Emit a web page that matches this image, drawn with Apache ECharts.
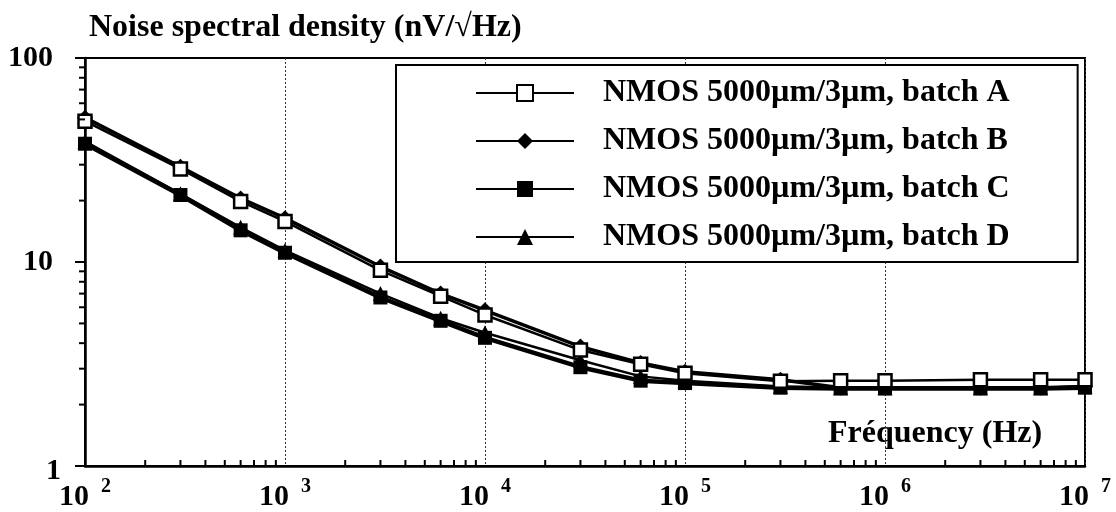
<!DOCTYPE html>
<html>
<head>
<meta charset="utf-8">
<script src="https://cdn.jsdelivr.net/npm/echarts@6/dist/echarts.min.js"></script>
<style>
html,body{margin:0;padding:0;background:#fff;}
#chart{width:1116px;height:512px;}
</style>
</head>
<body>
<div id="chart"></div>
<script>
// Frequencies (Hz)
const freqs = [100, 300, 600, 1000, 3000, 6000, 10000, 30000, 60000, 100000, 300000, 600000, 1000000, 3000000, 6000000, 10000000];
// Noise spectral density (nV/sqrt(Hz))
const batchA = [49, 28.6, 19.8, 15.8, 9.1, 6.8, 5.5, 3.7, 3.15, 2.85, 2.6, 2.62, 2.62, 2.65, 2.65, 2.65];
const batchB = [51, 29.3, 20.5, 16.4, 9.5, 7.0, 5.8, 3.85, 3.2, 2.9, 2.65, 2.42, 2.42, 2.42, 2.42, 2.45];
const batchC = [38, 21.3, 14.3, 11.1, 6.7, 5.15, 4.25, 3.05, 2.62, 2.55, 2.42, 2.4, 2.4, 2.4, 2.4, 2.42];
const batchD = [39, 21.6, 14.8, 11.4, 7.0, 5.3, 4.5, 3.3, 2.75, 2.62, 2.45, 2.42, 2.42, 2.42, 2.42, 2.45];
const seriesNames = ['NMOS 5000µm/3µm, batch A', 'NMOS 5000µm/3µm, batch B', 'NMOS 5000µm/3µm, batch C', 'NMOS 5000µm/3µm, batch D'];
// Minor tick positions
const xMinorTicks = [200,300,400,500,600,700,800,900,2000,3000,4000,5000,6000,7000,8000,9000,20000,30000,40000,50000,60000,70000,80000,90000,200000,300000,400000,500000,600000,700000,800000,900000,2000000,3000000,4000000,5000000,6000000,7000000,8000000,9000000];
const yMinorTicks = [2,3,4,5,6,7,8,9,20,30,40,50,60,70,80,90];
const titleText = 'Noise spectral density (nV/√Hz)';
const xTitleText = 'Fréquency (Hz)';

const FONT = '"Liberation Serif", "Times New Roman", serif';
const pair = arr => freqs.map((f, i) => [f, arr[i]]);

const chart = echarts.init(document.getElementById('chart'), null, {renderer: 'canvas'});

function tickSeries(data, dx, dy) {
  return {
    type: 'custom', silent: true, z: 5, clip: false,
    data: data,
    renderItem: function (params, api) {
      const p = api.coord([api.value(0), api.value(1)]);
      return {type: 'line', shape: {x1: p[0], y1: p[1], x2: p[0] + dx, y2: p[1] + dy},
              style: {stroke: '#000', lineWidth: 2}};
    }
  };
}

const option = {
  animation: false,
  backgroundColor: '#fff',
  grid: {left: 85, right: 31, top: 58, bottom: 46, show: true, borderColor: '#000', borderWidth: 2, backgroundColor: 'transparent'},
  xAxis: {
    type: 'log', logBase: 10, min: 100, max: 10000000,
    axisLine: {show: true, lineStyle: {color: '#000', width: 2.5}},
    axisTick: {show: false},
    splitLine: {show: true, lineStyle: {color: '#333', width: 1, type: [2, 2]}},
    axisLabel: {
      margin: 11, color: '#000',
      formatter: function (v) { return '{b|10}{s|' + Math.round(Math.log10(v)) + '}'; },
      rich: {
        b: {fontFamily: FONT, fontWeight: 'bold', fontSize: 30, lineHeight: 30, padding: [10, 0, 0, 0], color: '#000'},
        s: {fontFamily: FONT, fontWeight: 'bold', fontSize: 20, lineHeight: 20, verticalAlign: 'top', padding: [0, 0, 0, 12], color: '#000'}
      }
    }
  },
  yAxis: {
    type: 'log', logBase: 10, min: 1, max: 100,
    axisLine: {show: true, lineStyle: {color: '#000', width: 2.5}},
    axisTick: {show: true, inside: false, length: 10, lineStyle: {color: '#000', width: 2}},
    splitLine: {show: false},
    axisLabel: {
      margin: 24, color: '#000',
      formatter: function (v) { return v === 1 ? '{one|1}' : '{n|' + v + '}'; },
      rich: {
        n: {fontFamily: FONT, fontWeight: 'bold', fontSize: 30, padding: [0, 8, 0, 0], color: '#000'},
        one: {fontFamily: FONT, fontWeight: 'bold', fontSize: 30, padding: [10, 0, 0, 0], color: '#000'}
      }
    }
  },
  legend: {
    data: seriesNames,
    orient: 'vertical',
    left: 396, top: 65,
    padding: [12, 68, 9, 79],
    itemWidth: 98, itemHeight: 20, itemGap: 16,
    borderColor: '#000', borderWidth: 2, backgroundColor: '#fff',
    textStyle: {fontFamily: FONT, fontWeight: 'bold', fontSize: 32, lineHeight: 32, color: '#000', padding: [0, 0, 0, 24]}
  },
  graphic: [
    {type: 'text', left: 89, top: 12, style: {text: titleText, font: 'bold 32px ' + FONT, fill: '#000'}},
    {type: 'text', left: 828, top: 418, style: {text: xTitleText, font: 'bold 32px ' + FONT, fill: '#000'}}
  ],
  series: [
    {name: seriesNames[0], type: 'line', data: pair(batchA), symbol: 'rect', symbolSize: 13, z: 4,
     lineStyle: {color: '#000', width: 2.5}, itemStyle: {color: '#fff', borderColor: '#000', borderWidth: 2.5}},
    {name: seriesNames[1], type: 'line', data: pair(batchB), symbol: 'diamond', symbolSize: 16, z: 3,
     lineStyle: {color: '#000', width: 3.5}, itemStyle: {color: '#000', borderColor: '#000', borderWidth: 0}},
    {name: seriesNames[2], type: 'line', data: pair(batchC), symbol: 'rect', symbolSize: 14, z: 3,
     lineStyle: {color: '#000', width: 4.5}, itemStyle: {color: '#000', borderColor: '#000', borderWidth: 0}},
    {name: seriesNames[3], type: 'line', data: pair(batchD), symbol: 'triangle', symbolSize: 15, z: 3,
     lineStyle: {color: '#000', width: 2.5}, itemStyle: {color: '#000', borderColor: '#000', borderWidth: 0}},
    tickSeries(xMinorTicks.map(v => [v, 1]), 0, -6),
    tickSeries(yMinorTicks.map(v => [100, v]), -6, 0)
  ]
};
chart.setOption(option);
</script>
</body>
</html>
